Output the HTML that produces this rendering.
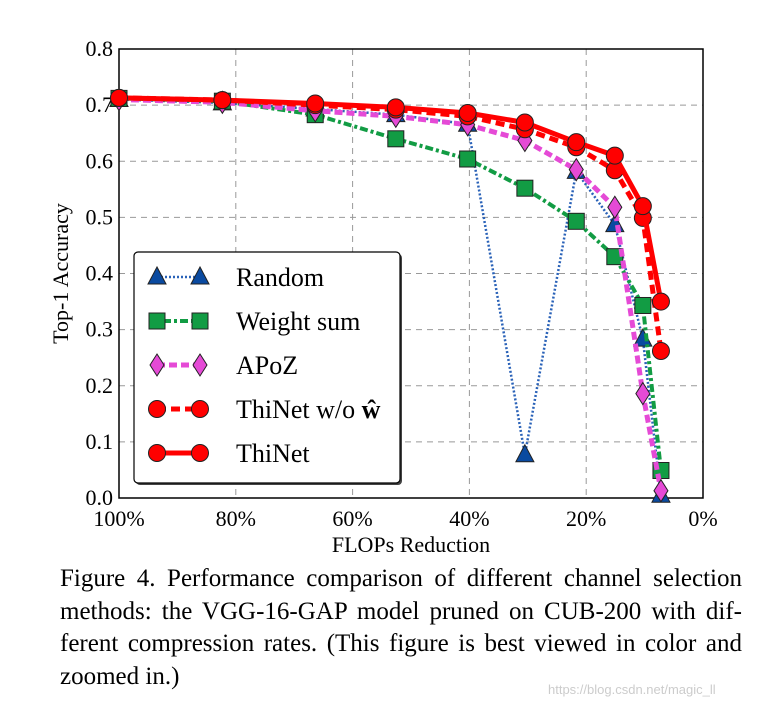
<!DOCTYPE html>
<html><head><meta charset="utf-8"><style>
body{margin:0;background:#fff;width:764px;height:709px;overflow:hidden;font-family:"Liberation Serif",serif}
svg{position:absolute;left:0;top:0}
.cap{position:absolute;left:60px;top:563px;width:682px;font-size:25px;line-height:32.5px;color:#000}
.cap div{text-align:justify;text-align-last:justify;white-space:nowrap}
.cap div.last{text-align-last:left}
.wm{position:absolute;left:548px;top:682px;font-family:"Liberation Sans",sans-serif;font-size:13px;color:#ccc}
</style></head><body>
<svg id="chart" width="764" height="709" font-family="Liberation Serif, serif"></svg>
<div class="cap"><div>Figure 4. Performance comparison of different channel selection</div><div>methods: the VGG-16-GAP model pruned on CUB-200 with dif-</div><div>ferent compression rates. (This figure is best viewed in color and</div><div class="last">zoomed in.)</div></div>
<div class="wm">https://blog.csdn.net/magic_ll</div>
<script>
const flops=[100,82.3,66.4,52.6,40.3,30.5,21.7,15.1,10.3,7.2];
const randomVals=[0.710,0.704,0.693,0.683,0.666,0.077,0.582,0.487,0.283,0.005];
const weightVals=[0.712,0.707,0.683,0.640,0.604,0.552,0.493,0.430,0.343,0.049];
const apozVals=[0.710,0.705,0.690,0.680,0.665,0.637,0.585,0.518,0.186,0.013];
const woVals=[0.713,0.709,0.700,0.692,0.680,0.657,0.625,0.584,0.499,0.262];
const thinetVals=[0.713,0.709,0.703,0.696,0.686,0.669,0.634,0.610,0.520,0.350];
const xTicks=[100,80,60,40,20,0];
const yTicks=[0,0.1,0.2,0.3,0.4,0.5,0.6,0.7,0.8];
const L=119,R=703,T=49,B=498;
const xs=v=>L+(100-v)/100*(R-L);
const ys=v=>B-v/0.8*(B-T);
const svg=document.getElementById('chart');
const NS='http://www.w3.org/2000/svg';
function mk(tag,attrs,parent){const e=document.createElementNS(NS,tag);for(const k in attrs)e.setAttribute(k,attrs[k]);(parent||svg).appendChild(e);return e;}
xTicks.forEach(t=>{if(t>0&&t<100){const g=mk('line',{x1:xs(t),x2:xs(t),y1:T,y2:B,stroke:'#999','stroke-dasharray':'6,5','stroke-width':1});

}
const tx=mk('text',{x:xs(t),y:B+28,'text-anchor':'middle','font-size':22});tx.textContent=t+'%';

});
yTicks.forEach(t=>{if(t>0&&t<0.8){const g=mk('line',{x1:L,x2:R,y1:ys(t),y2:ys(t),stroke:'#999','stroke-dasharray':'6,5','stroke-width':1});

}
const tx=mk('text',{x:L-6,y:ys(t)+7,'text-anchor':'end','font-size':22});tx.textContent=t.toFixed(1);

});
const fr=mk('rect',{x:L,y:T,width:R-L,height:B-T,fill:'none',stroke:'#000','stroke-width':1.5});


const xl=mk('text',{x:(L+R)/2,y:552,'text-anchor':'middle','font-size':22});xl.textContent='FLOPs Reduction';


const yl=mk('text',{x:0,y:0,'text-anchor':'middle','font-size':22,transform:'translate(68,'+(T+B)/2+') rotate(-90)'});yl.textContent='Top-1 Accuracy';


function marker(type,x,y,color,p){
 if(type==='tri')return mk('polygon',{points:`${x},${y-10} ${x-9},${y+7} ${x+9},${y+7}`,fill:color,stroke:'#222','stroke-width':1},p);
 if(type==='sq')return mk('rect',{x:x-8,y:y-8,width:16,height:16,fill:color,stroke:'#222','stroke-width':1},p);
 if(type==='dia')return mk('polygon',{points:`${x},${y-11} ${x+7},${y} ${x},${y+11} ${x-7},${y}`,fill:color,stroke:'#222','stroke-width':1},p);
 return mk('circle',{cx:x,cy:y,r:8.5,fill:color,stroke:'#222','stroke-width':1},p);
}
const series=[
 {name:'Random',vals:randomVals,color:'#0a4aa0',lc:'#2a62b8',dash:'2,2',w:2.5,m:'tri'},
 {name:'Weight sum',vals:weightVals,color:'#129c44',lc:'#129c44',dash:'3,3,8,3',w:4,m:'sq'},
 {name:'APoZ',vals:apozVals,color:'#e54ad6',lc:'#e54ad6',dash:'8,4',w:5,m:'dia'},
 {name:'ThiNet w/o',vals:woVals,color:'#ff0000',lc:'#ff0000',dash:'9,5',w:5,m:'c'},
 {name:'ThiNet',vals:thinetVals,color:'#ff0000',lc:'#ff0000',dash:'',w:5,m:'c'}];
series.forEach((s,i)=>{
 const g=mk('g',{});
 
 
 const pts=s.vals.map((v,j)=>xs(flops[j])+','+ys(v)).join(' ');
 mk('polyline',{points:pts,fill:'none',stroke:s.lc,'stroke-width':s.w,'stroke-dasharray':s.dash},g);
 s.vals.forEach((v,j)=>{const m=marker(s.m,xs(flops[j]),ys(v),s.color,g);
 
 });
});
const lg=mk('g',{});


mk('rect',{x:136,y:254,width:266,height:231,rx:4,fill:'#444'},lg);
mk('rect',{x:134,y:252,width:266,height:231,rx:4,fill:'#fff',stroke:'#000','stroke-width':1.2},lg);
const labels=['Random','Weight sum','APoZ','ThiNet w/o ','ThiNet'];
series.forEach((s,i)=>{
 const y=277+i*44;
 const e=mk('g',{},lg);
 
 
 mk('line',{x1:157,x2:200,y1:y,y2:y,stroke:s.lc,'stroke-width':s.w,'stroke-dasharray':s.dash},e);
 marker(s.m,157,y,s.color,e);marker(s.m,200,y,s.color,e);
 const t=mk('text',{x:236,y:y+9,'font-size':26},e);t.textContent=labels[i];
 if(i===3){const b=mk('tspan',{'font-weight':'bold'},t);b.textContent='w\u0302';}
});
</script>
</body></html>
